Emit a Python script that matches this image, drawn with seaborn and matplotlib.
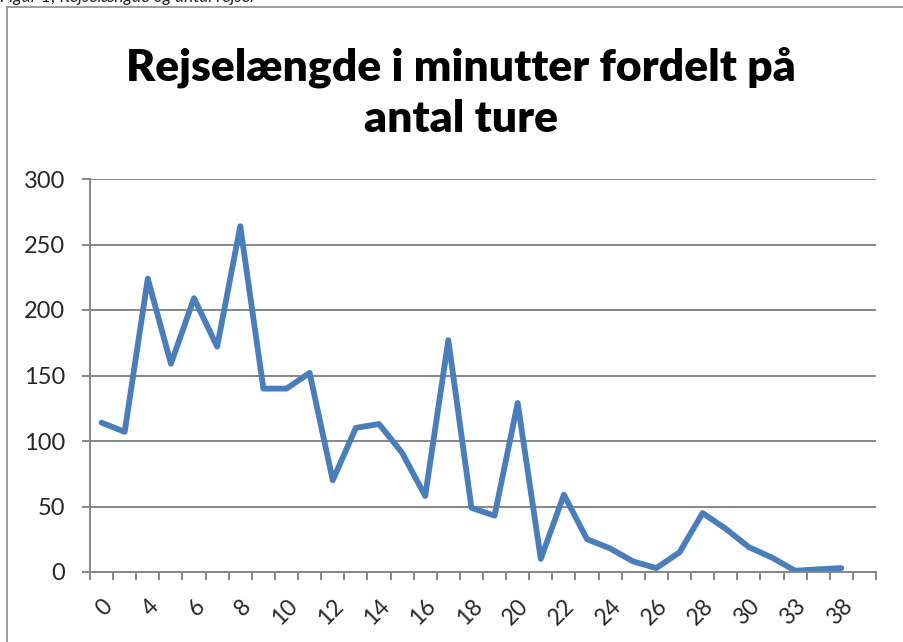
import numpy as np
import pandas as pd
import matplotlib
matplotlib.use("Agg")
import matplotlib.pyplot as plt
from matplotlib.lines import Line2D
import seaborn as sns

# Travel time categories (minutes) and number of trips in each
minutes = ["0", "3", "4", "5", "6", "7", "8", "9", "10", "11", "12", "13",
           "14", "15", "16", "17", "18", "19", "20", "21", "22", "23", "24",
           "25", "26", "27", "28", "29", "30", "31", "33", "35", "38", "40"]
trips = [114, 107, 224, 159, 209, 172, 264, 140, 140, 152, 70, 110, 113, 91,
         58, 177, 49, 43, 129, 10, 59, 25, 18, 8, 3, 15, 45, 33, 19, 11, 1, 2, 3,
         np.nan]
y_ticks = [0, 50, 100, 150, 200, 250, 300]

title = "Rejselængde i minutter fordelt på\nantal ture"
caption = "Figur 1; Rejselængde og antal rejser"

df = pd.DataFrame({"pos": np.arange(len(minutes)), "minutter": minutes,
                   "ture": trips})

sns.set_theme(style="white")
plt.rcParams["font.family"] = ["Lato", "DejaVu Sans"]

W, H = 904, 642
fig = plt.figure(figsize=(W / 100, H / 100), dpi=100)
fig.patch.set_facecolor("white")

# plot area in pixel coordinates
left, right, top, bottom = 90, 876, 179, 572
ax = fig.add_axes([left / W, 1 - bottom / H, (right - left) / W, (bottom - top) / H])

grid_col = "#868686"
sns.lineplot(data=df, x="pos", y="ture", ax=ax, color="#4A7EBB",
             linewidth=4.2, solid_joinstyle="round", solid_capstyle="round")

ax.set_xlim(-0.5, len(minutes) - 0.5)
ax.set_ylim(0, 300)
ax.set_yticks(y_ticks)
ax.set_yticklabels([str(v) for v in y_ticks], fontsize=17)
ax.yaxis.grid(True, color=grid_col, linewidth=1.4)
ax.set_axisbelow(True)

# category labels on every other category, tick marks between categories
ax.set_xticks(df["pos"][::2])
ax.set_xticklabels(df["minutter"][::2], rotation=45, ha="right",
                   rotation_mode="anchor", fontsize=16.5)
ax.set_xticks(np.arange(-0.5, len(minutes)), minor=True)
ax.tick_params(axis="x", which="major", length=0, pad=17)
ax.tick_params(axis="x", which="minor", length=6, width=1.4, color=grid_col,
               direction="out", bottom=True)
ax.tick_params(axis="y", length=6, width=1.4, color=grid_col, direction="out",
               left=True, pad=12)
ax.set_xlabel("")
ax.set_ylabel("")

for side in ["top", "right"]:
    ax.spines[side].set_visible(False)
for side in ["left", "bottom"]:
    ax.spines[side].set_color(grid_col)
    ax.spines[side].set_linewidth(1.4)

# chart frame
fig.add_artist(Line2D([7 / W, 1], [1 - 7 / H, 1 - 7 / H], color="#8c8c8c",
                      linewidth=1.2, transform=fig.transFigure))
fig.add_artist(Line2D([7 / W, 7 / W], [1 - 7 / H, 0], color="#8c8c8c",
                      linewidth=1.2, transform=fig.transFigure))

fig.text(461 / W, 1 - 93 / H, title, ha="center", va="center", fontsize=32,
         fontweight="heavy", linespacing=1.32, color="black")
fig.text(0, 1 - 2 / H, caption, ha="left", va="baseline", fontsize=12.5,
         style="italic", color="#222222")

fig.savefig("out.png", dpi=100, facecolor="white")
